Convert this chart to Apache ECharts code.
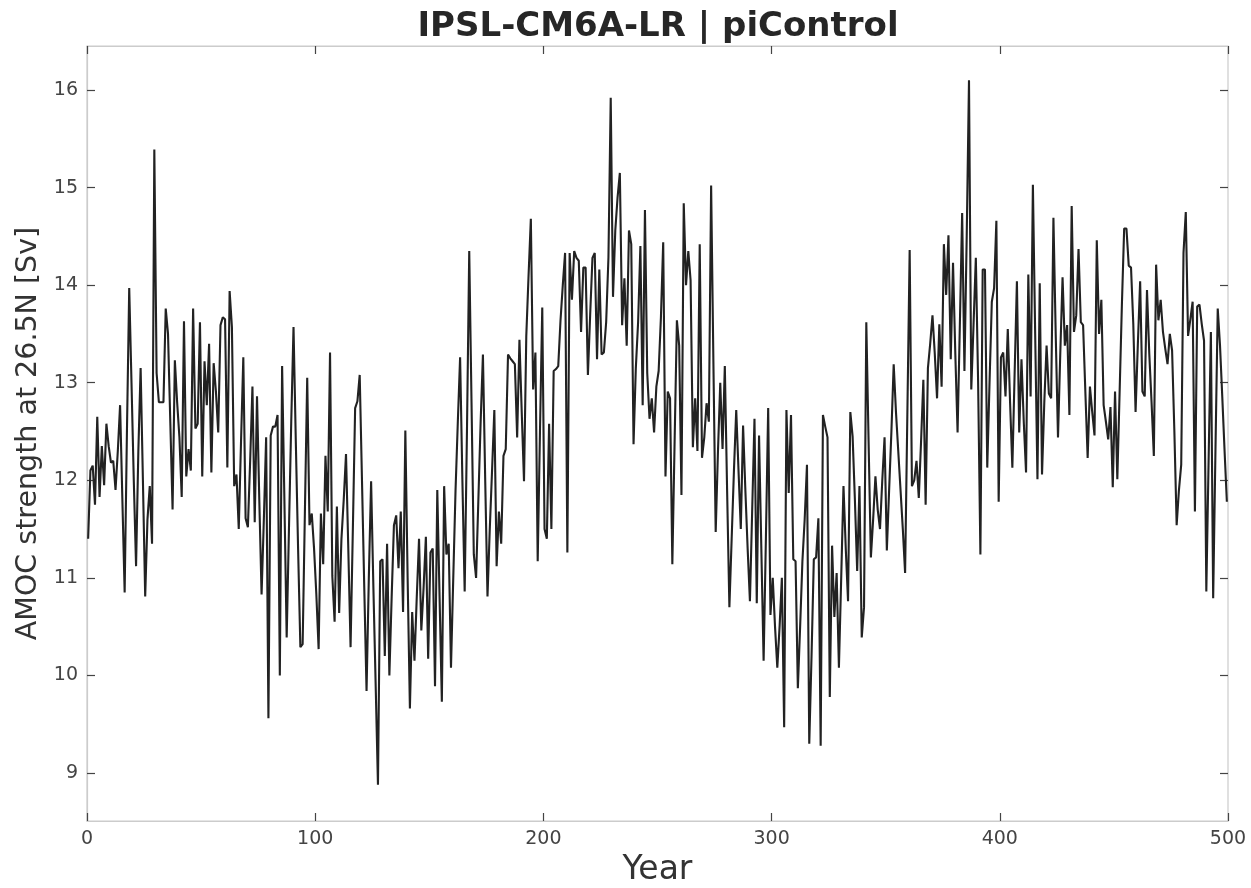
<!DOCTYPE html>
<html>
<head>
<meta charset="utf-8">
<script src="https://cdn.jsdelivr.net/npm/echarts@6/dist/echarts.min.js"></script>
<style>
html,body{margin:0;padding:0;background:#fff;}
#chart{width:1251px;height:888px;}
</style>
</head>
<body>
<div id="chart"></div>
<script>
const titleText = 'IPSL-CM6A-LR | piControl';
const xLabel = 'Year';
const yLabel = 'AMOC strength at 26.5N [Sv]';
const xTicks = [0, 100, 200, 300, 400, 500];
const yTicks = [9, 10, 11, 12, 13, 14, 15, 16];

// AMOC strength [Sv], one value per model year (plotted at mid-year)
const amoc = [
11.40,12.10,12.15,11.75,12.65,11.83,12.35,11.95,12.58,12.35,
12.18,12.20,11.90,12.30,12.77,11.80,10.85,12.50,13.97,13.00,
12.00,11.12,12.30,13.15,12.00,10.81,11.60,11.94,11.35,15.39,
13.10,12.80,12.80,12.80,13.76,13.50,12.60,11.70,13.23,12.80,
12.44,11.83,13.63,12.04,12.32,12.10,13.76,12.53,12.58,13.62,
12.04,13.22,12.77,13.40,12.08,13.20,12.91,12.49,13.59,13.67,
13.65,12.13,13.94,13.57,11.94,12.06,11.50,12.40,13.26,11.61,
11.52,12.20,12.96,11.57,12.86,11.80,10.83,11.60,12.44,9.56,
12.46,12.55,12.55,12.67,10.00,13.17,11.80,10.39,11.50,12.60,
13.57,12.40,11.30,10.29,10.32,11.70,13.05,11.54,11.66,11.30,
10.83,10.27,11.66,11.14,12.25,11.68,13.31,11.02,10.55,11.73,
10.64,11.40,11.80,12.27,11.30,10.29,11.50,12.74,12.81,13.08,
12.00,10.90,9.84,11.00,11.99,10.90,9.90,8.88,11.17,11.19,
10.20,11.35,10.00,10.80,11.54,11.64,11.10,11.68,10.65,12.51,
11.00,9.66,10.65,10.15,10.80,11.40,10.46,10.90,11.42,10.17,
11.26,11.30,9.89,11.90,10.80,9.73,11.94,11.24,11.35,10.08,
11.00,11.90,12.60,13.26,12.00,10.86,12.50,14.35,12.80,11.24,
11.00,11.80,12.60,13.29,12.00,10.81,11.50,12.10,12.72,11.12,
11.68,11.35,12.25,12.32,13.29,13.25,13.22,13.19,12.44,13.44,
12.70,11.99,13.48,14.10,14.68,12.93,13.31,11.17,12.50,13.77,
11.50,11.40,12.58,11.50,13.12,13.14,13.17,13.64,14.00,14.33,
11.26,14.33,13.85,14.35,14.28,14.25,13.52,14.18,14.18,13.08,
13.70,14.28,14.33,13.24,14.16,13.29,13.31,13.62,14.28,15.92,
13.88,14.56,14.90,15.15,13.59,14.07,13.38,14.56,14.42,12.37,
13.15,13.62,14.40,12.77,14.77,13.10,12.63,12.84,12.49,12.96,
13.12,13.67,14.44,12.04,12.91,12.84,11.14,12.40,13.64,13.38,
11.85,14.84,14.00,14.35,14.05,12.34,12.84,12.30,14.42,12.23,
12.44,12.79,12.60,15.02,13.20,11.47,12.30,13.00,12.32,13.17,
11.90,10.70,11.40,12.10,12.72,12.10,11.50,12.56,11.90,11.30,
10.76,11.70,12.63,10.74,12.46,11.30,10.15,11.40,12.74,10.62,
11.00,10.50,10.08,10.50,11.00,9.47,12.72,11.87,12.67,11.19,
11.17,9.87,10.50,11.17,11.60,12.16,9.30,10.20,11.19,11.21,
11.61,9.28,12.67,12.55,12.44,9.78,11.33,10.60,11.05,10.08,
11.00,11.94,11.30,10.76,12.70,12.45,11.80,11.07,11.94,10.39,
10.70,13.62,12.40,11.21,11.60,12.04,11.70,11.50,12.00,12.44,
11.28,11.90,12.50,13.19,12.70,12.30,11.90,11.50,11.05,12.70,
14.36,11.94,12.00,12.20,11.82,12.40,13.03,11.75,13.15,13.40,
13.69,13.30,12.84,13.60,12.96,14.42,13.90,14.51,13.24,14.23,
13.30,12.49,13.60,14.74,13.12,14.50,16.10,12.93,13.60,14.28,
13.00,11.24,14.16,14.16,12.13,13.00,13.83,13.97,14.66,11.78,
13.26,13.31,12.86,13.55,12.80,12.13,13.10,14.04,12.49,13.24,
12.60,12.08,14.11,12.86,15.03,13.50,12.01,14.02,12.06,12.80,
13.38,12.89,12.84,14.69,13.50,12.44,13.30,14.08,13.38,13.59,
12.67,14.81,13.52,13.69,14.37,13.62,13.59,12.90,12.23,12.96,
12.70,12.46,14.46,13.50,13.85,12.77,12.60,12.42,12.75,11.93,
12.91,12.01,12.90,13.80,14.58,14.58,14.20,14.18,13.60,12.70,
13.40,14.04,12.91,12.86,13.95,13.30,12.80,12.25,14.21,13.64,
13.85,13.52,13.35,13.19,13.50,13.33,12.50,11.54,11.90,12.16,
14.33,14.75,13.48,13.65,13.83,11.68,13.78,13.80,13.60,13.43,
10.86,12.20,13.52,10.79,12.30,13.76,13.38,12.85,12.30,11.78
];
const years = amoc.map((_, i) => i + 0.5);

const FONT = 'DejaVu Sans';
const Y_MIN = 8.508, Y_MAX = 16.451;
const chart = echarts.init(document.getElementById('chart'), null, {renderer: 'canvas'});

const tickLine = {color: '#444', width: 1.2};
const borderLine = {show: true, lineStyle: {color: '#cccccc', width: 1.2}};

chart.setOption({
  animation: false,
  backgroundColor: '#ffffff',
  title: {
    text: titleText,
    left: 653,
    top: 5,
    textAlign: 'center',
    textStyle: {fontFamily: FONT, fontSize: 34, fontWeight: 'bold', color: '#262626'}
  },
  grid: [
    {left: 87, right: 23, top: 46, bottom: 67, containLabel: false, outerBoundsMode: 'none',
     show: true, borderColor: '#cccccc', borderWidth: 1.2, backgroundColor: '#ffffff'},
    // thin helper grid whose left edge is the right border of the plot (right-side ticks)
    {left: 1228, right: 0, top: 46, bottom: 67, containLabel: false, outerBoundsMode: 'none', show: false}
  ],
  xAxis: [{
    gridIndex: 0, type: 'value', min: 0, max: 500, interval: 100, position: 'bottom',
    name: xLabel, nameLocation: 'middle', nameGap: 33,
    nameTextStyle: {fontFamily: FONT, fontSize: 33, color: '#333'},
    axisLine: borderLine,
    axisTick: {show: true, inside: true, length: 8, lineStyle: tickLine},
    axisLabel: {fontFamily: FONT, fontSize: 19, color: '#444', margin: 9},
    splitLine: {show: false}
  }, {
    gridIndex: 0, type: 'value', min: 0, max: 500, interval: 100, position: 'top',
    axisLine: borderLine,
    axisTick: {show: true, inside: true, length: 8, lineStyle: tickLine},
    axisLabel: {show: false}, splitLine: {show: false}
  }, {
    gridIndex: 1, type: 'value', min: 0, max: 1, show: false
  }],
  yAxis: [{
    gridIndex: 0, type: 'value', min: Y_MIN, max: Y_MAX, position: 'left',
    name: yLabel, nameLocation: 'middle', nameGap: 40, nameRotate: 90,
    nameTextStyle: {fontFamily: FONT, fontSize: 28.5, color: '#333'},
    axisLine: borderLine,
    axisTick: {show: true, inside: false, length: -8, lineStyle: tickLine, customValues: yTicks},
    axisLabel: {fontFamily: FONT, fontSize: 19, color: '#444', margin: 9, customValues: yTicks},
    splitLine: {show: false}
  }, {
    gridIndex: 1, type: 'value', min: Y_MIN, max: Y_MAX, position: 'left',
    axisLine: {show: false},
    axisTick: {show: true, inside: false, length: 8, lineStyle: tickLine, customValues: yTicks},
    axisLabel: {show: false, customValues: yTicks}, splitLine: {show: false}
  }],
  series: [{
    type: 'line',
    xAxisIndex: 0, yAxisIndex: 0,
    data: years.map((y, i) => [y, amoc[i]]),
    showSymbol: false,
    symbol: 'none',
    lineStyle: {color: '#222222', width: 2.1},
    z: 5
  }]
});
</script>
</body>
</html>
